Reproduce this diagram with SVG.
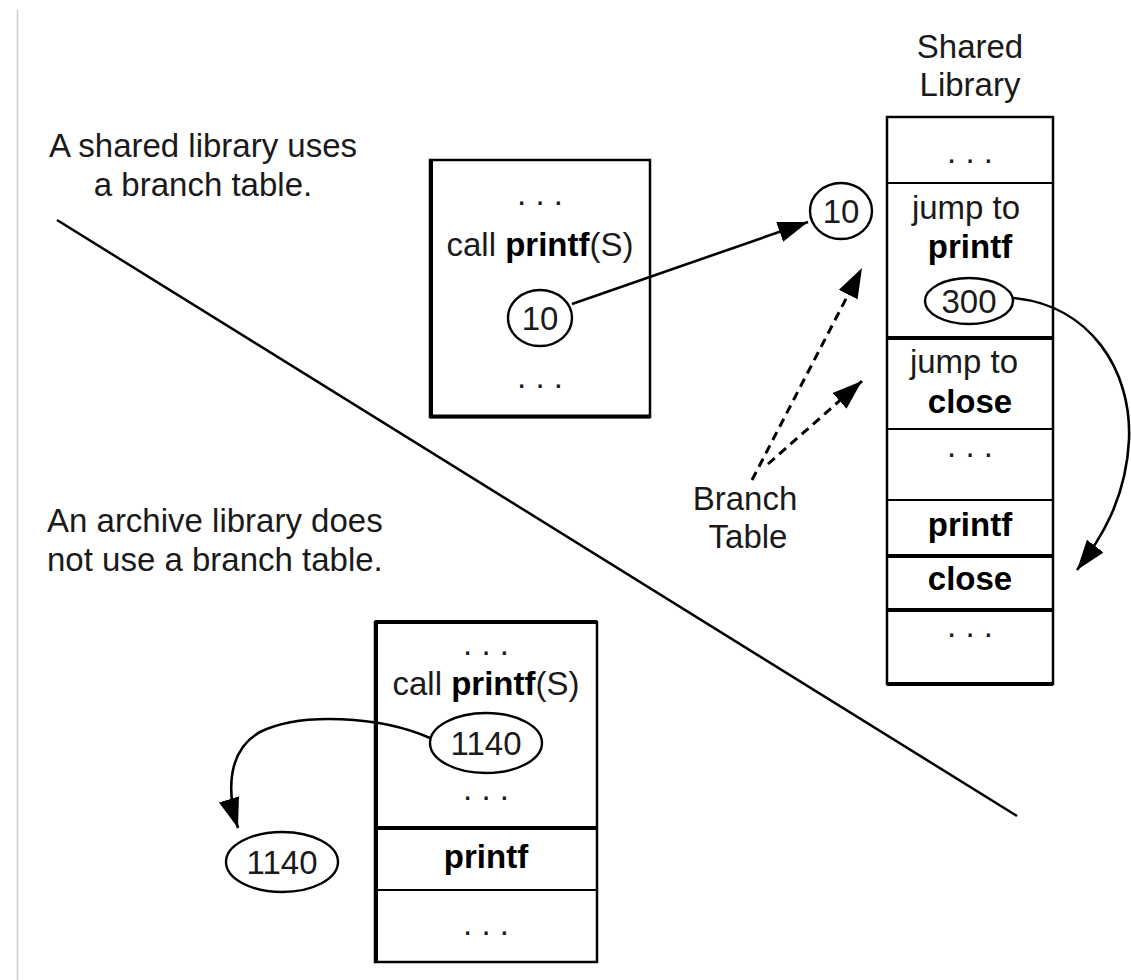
<svg xmlns="http://www.w3.org/2000/svg" width="1131" height="980" viewBox="0 0 1131 980">
<style>
text{font-family:"Liberation Sans",Arial,Helvetica,sans-serif;font-size:33px;fill:#1a1a1a}
.m{text-anchor:middle}
.b{font-weight:bold;fill:#000}
.box{fill:#fff;stroke:#000;stroke-width:2.5}
.thin{stroke:#000;stroke-width:2}
.thick{stroke:#000;stroke-width:4}
.ell{fill:#fff;stroke:#000;stroke-width:2.4}
.conn{fill:none;stroke:#000;stroke-width:2.6}
.dash{stroke-dasharray:9 6;stroke-width:3}
</style>
<defs>
<marker id="ah" markerUnits="userSpaceOnUse" markerWidth="32" markerHeight="24" refX="30" refY="12" orient="auto">
<path d="M0,1.5 L30,12 L0,22.5 z" fill="#000"/>
</marker>
</defs>
<rect width="1131" height="980" fill="#fff"/>
<line x1="17.5" y1="10" x2="17.5" y2="980" stroke="#cfcfcf" stroke-width="1.5"/>

<g id="divider">
<line x1="57" y1="220" x2="1017" y2="816" stroke="#000" stroke-width="2.5"/>
</g>

<g id="label-shared">
<text class="m" x="203" y="157">A shared library uses</text>
<text class="m" x="203" y="196">a branch table.</text>
</g>
<g id="label-archive">
<text x="47" y="532">An archive library does</text>
<text x="47" y="571">not use a branch table.</text>
</g>

<g id="program-shared">
<rect class="box" x="430" y="160" width="220" height="257"/>
<line class="thick" x1="431" y1="160" x2="431" y2="418"/>
<line class="thick" x1="430" y1="416.5" x2="650" y2="416.5"/>
<text class="m" x="540" y="205">. . .</text>
<text class="m" x="540" y="256">call <tspan class="b">printf</tspan>(S)</text>
<ellipse class="ell" cx="540" cy="318" rx="32" ry="28"/>
<text class="m" x="540" y="330">10</text>
<text class="m" x="540" y="388">. . .</text>
</g>

<g id="addr-10">
<ellipse class="ell" cx="841" cy="211" rx="31" ry="28"/>
<text class="m" x="841" y="223">10</text>
</g>

<g id="shared-library">
<text class="m" x="970" y="58">Shared</text>
<text class="m" x="970" y="96">Library</text>
<rect class="box" x="887" y="117" width="166" height="567"/>
<line class="thin" x1="887" y1="183" x2="1053" y2="183"/>
<line class="thick" x1="887" y1="338" x2="1053" y2="338"/>
<line class="thin" x1="887" y1="429" x2="1053" y2="429"/>
<line class="thin" x1="887" y1="500" x2="1053" y2="500"/>
<line class="thick" x1="887" y1="556" x2="1053" y2="556"/>
<line class="thick" x1="887" y1="610" x2="1053" y2="610"/>
<line class="thick" x1="887" y1="684" x2="1053" y2="684"/>
<text class="m" x="970" y="163">. . .</text>
<text class="m" x="966" y="219">jump to</text>
<text class="m b" x="970" y="258">printf</text>
<ellipse class="ell" cx="969" cy="301" rx="44" ry="23"/>
<text class="m" x="969" y="313">300</text>
<text class="m" x="964" y="373">jump to</text>
<text class="m b" x="970" y="413">close</text>
<text class="m" x="970" y="457">. . .</text>
<text class="m b" x="970" y="536">printf</text>
<text class="m b" x="970" y="590">close</text>
<text class="m" x="970" y="637">. . .</text>
</g>

<g id="branch-table-label">
<text class="m" x="745" y="510">Branch</text>
<text class="m" x="748" y="548">Table</text>
</g>

<g id="program-archive">
<rect class="box" x="375" y="622" width="222" height="340"/>
<line class="thick" x1="376" y1="622" x2="376" y2="963"/>
<line class="thick" x1="375" y1="622" x2="597" y2="622"/>
<line class="thick" x1="375" y1="828" x2="597" y2="828"/>
<line class="thin" x1="375" y1="890" x2="597" y2="890"/>
<text class="m" x="486" y="655">. . .</text>
<text class="m" x="486" y="695">call <tspan class="b">printf</tspan>(S)</text>
<ellipse class="ell" cx="486" cy="743" rx="56" ry="30"/>
<text class="m" x="486" y="755">1140</text>
<text class="m" x="486" y="800">. . .</text>
<text class="m b" x="486" y="868">printf</text>
<text class="m" x="486" y="935">. . .</text>
</g>

<g id="addr-1140">
<ellipse class="ell" cx="282" cy="862" rx="56" ry="30"/>
<text class="m" x="282" y="874">1140</text>
</g>

<g id="connectors">
<line class="conn" x1="572" y1="304" x2="808" y2="222" marker-end="url(#ah)"/>
<line class="conn dash" x1="752" y1="480" x2="862" y2="268" marker-end="url(#ah)"/>
<line class="conn dash" x1="768" y1="464" x2="862" y2="381" marker-end="url(#ah)"/>
<path class="conn" d="M1013,298 C1090,305 1132,370 1129,440 C1126,500 1100,540 1077,570" marker-end="url(#ah)"/>
<path class="conn" d="M430,738 C380,716 300,712 260,732 C228,750 226,790 238,828" marker-end="url(#ah)"/>
</g>
</svg>
